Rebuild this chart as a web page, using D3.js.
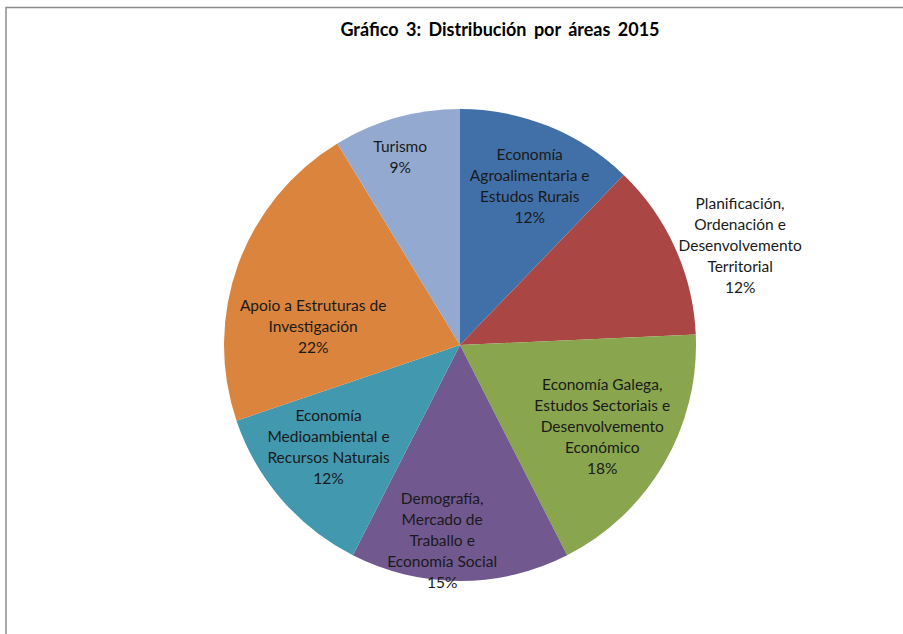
<!DOCTYPE html>
<html>
<head>
<meta charset="utf-8">
<script src="https://cdn.jsdelivr.net/npm/d3@7"></script>
<style>
  body { margin: 0; background: #fff; }
  svg { display: block; }
  .title { font-family: Lato, "Open Sans", sans-serif; font-weight: bold; font-size: 18px; fill: #000; }
  .lbl { font-family: Lato, "Open Sans", sans-serif; font-size: 15.5px; fill: #1a1a1a; }
</style>
</head>
<body>
<svg></svg>
<script>
const w = 903
const h = 634

// data
const categories = [
  'Economía\nAgroalimentaria e\nEstudos Rurais',
  'Planificación,\nOrdenación e\nDesenvolvemento\nTerritorial',
  'Economía Galega,\nEstudos Sectoriais e\nDesenvolvemento\nEconómico',
  'Demografía,\nMercado de\nTraballo e\nEconomía Social',
  'Economía\nMedioambiental e\nRecursos Naturais',
  'Apoio a Estruturas de\nInvestigación',
  'Turismo'
]
const values = [12.2, 12.1, 18.2, 15.0, 12.3, 21.5, 8.7]
const colors = ['#4170A8', '#AA4643', '#89A54E', '#71588F', '#4198AF', '#DB843D', '#93A9CF']

// label placement (angle shift in degrees from slice middle, radius)
const labelShift = [1.8, 4.9, -0.4, 5.2, 2.8, -13, -2.0]
const labelRadius = [173, 297, 164, 197, 167, 148, 197]

const svg = d3.select('svg')
  .attr('width', w)
  .attr('height', h);

// frame
svg.append('path')
  .attr('d', `M6,${h + 5} V7.5 H${w + 5}`)
  .attr('fill', 'none')
  .attr('stroke', '#8c8c8c')
  .attr('stroke-width', 1.5);

svg.append('text')
  .attr('class', 'title')
  .attr('x', 500)
  .attr('y', 36)
  .attr('text-anchor', 'middle')
  .attr('word-spacing', '3px')
  .text('Gráfico 3: Distribución por áreas 2015');

const cx = 460, cy = 345, r = 236;
const g = svg.append('g').attr('transform', `translate(${cx}, ${cy})`);

const pie = d3.pie().sort(null).value(d => d)
const arcs = pie(values)
const arc = d3.arc().innerRadius(0).outerRadius(r)

g.selectAll('path.slice').data(arcs)
  .enter().append('path')
  .attr('class', 'slice')
  .attr('d', arc)
  .attr('fill', (d, i) => colors[i]);

const total = d3.sum(values)
const fmt = v => Math.round(v / total * 100) + '%'
const lineH = 21

arcs.forEach((d, i) => {
  const a = (d.startAngle + d.endAngle) / 2 + labelShift[i] * Math.PI / 180
  const lr = labelRadius[i]
  const x = lr * Math.sin(a)
  const y = -lr * Math.cos(a)
  const lines = categories[i].split('\n').concat([fmt(d.value)])
  const y0 = y - (lines.length - 1) * lineH / 2 + 5
  const t = g.append('text')
    .attr('class', 'lbl')
    .attr('text-anchor', 'middle')
  lines.forEach((s, k) => {
    t.append('tspan').attr('x', x).attr('y', y0 + k * lineH).text(s)
  })
})
</script>
</body>
</html>
